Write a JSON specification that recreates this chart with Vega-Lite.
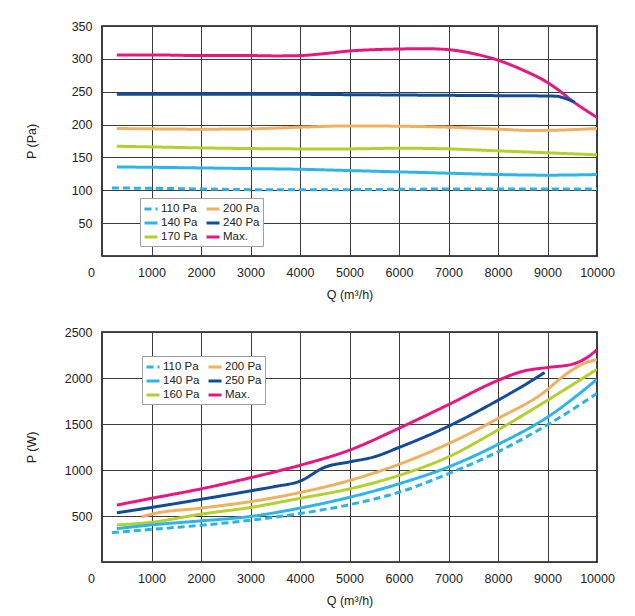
{
  "$schema": "https://vega.github.io/schema/vega-lite/v6.json",
  "background": "white",
  "padding": {"left": 24, "top": 19, "right": 5, "bottom": 5},
  "spacing": 23,
  "datasets": {
    "pressure": [
      {"s": "Max.", "q": 300, "v": 306}, {"s": "Max.", "q": 1000, "v": 306}, {"s": "Max.", "q": 2000, "v": 305}, {"s": "Max.", "q": 3000, "v": 305}, {"s": "Max.", "q": 3500, "v": 304.5}, {"s": "Max.", "q": 4000, "v": 305}, {"s": "Max.", "q": 4500, "v": 308}, {"s": "Max.", "q": 5000, "v": 312}, {"s": "Max.", "q": 5500, "v": 314}, {"s": "Max.", "q": 6000, "v": 315}, {"s": "Max.", "q": 6500, "v": 315.5}, {"s": "Max.", "q": 7000, "v": 314}, {"s": "Max.", "q": 7500, "v": 308}, {"s": "Max.", "q": 8000, "v": 298}, {"s": "Max.", "q": 8500, "v": 283}, {"s": "Max.", "q": 9000, "v": 264}, {"s": "Max.", "q": 9250, "v": 251}, {"s": "Max.", "q": 9500, "v": 236}, {"s": "Max.", "q": 9750, "v": 223}, {"s": "Max.", "q": 10000, "v": 211},
      {"s": "240 Pa", "q": 300, "v": 246}, {"s": "240 Pa", "q": 1000, "v": 246}, {"s": "240 Pa", "q": 2000, "v": 246}, {"s": "240 Pa", "q": 3000, "v": 246}, {"s": "240 Pa", "q": 4000, "v": 246}, {"s": "240 Pa", "q": 5000, "v": 245.5}, {"s": "240 Pa", "q": 6000, "v": 245}, {"s": "240 Pa", "q": 7000, "v": 244.5}, {"s": "240 Pa", "q": 8000, "v": 244}, {"s": "240 Pa", "q": 9000, "v": 243.5}, {"s": "240 Pa", "q": 9200, "v": 243}, {"s": "240 Pa", "q": 9350, "v": 240}, {"s": "240 Pa", "q": 9550, "v": 234},
      {"s": "200 Pa", "q": 300, "v": 194}, {"s": "200 Pa", "q": 1000, "v": 193.5}, {"s": "200 Pa", "q": 2000, "v": 193}, {"s": "200 Pa", "q": 3000, "v": 193.5}, {"s": "200 Pa", "q": 4000, "v": 196}, {"s": "200 Pa", "q": 5000, "v": 198}, {"s": "200 Pa", "q": 6000, "v": 197.5}, {"s": "200 Pa", "q": 7000, "v": 196}, {"s": "200 Pa", "q": 8000, "v": 193}, {"s": "200 Pa", "q": 8700, "v": 191}, {"s": "200 Pa", "q": 9200, "v": 191.5}, {"s": "200 Pa", "q": 10000, "v": 194},
      {"s": "170 Pa", "q": 300, "v": 167}, {"s": "170 Pa", "q": 1000, "v": 166}, {"s": "170 Pa", "q": 2000, "v": 164.5}, {"s": "170 Pa", "q": 3000, "v": 163.5}, {"s": "170 Pa", "q": 4000, "v": 163}, {"s": "170 Pa", "q": 5000, "v": 163}, {"s": "170 Pa", "q": 6000, "v": 164}, {"s": "170 Pa", "q": 7000, "v": 163}, {"s": "170 Pa", "q": 8000, "v": 160}, {"s": "170 Pa", "q": 9000, "v": 157}, {"s": "170 Pa", "q": 10000, "v": 154},
      {"s": "140 Pa", "q": 300, "v": 135.5}, {"s": "140 Pa", "q": 1000, "v": 135}, {"s": "140 Pa", "q": 2000, "v": 134}, {"s": "140 Pa", "q": 3000, "v": 133}, {"s": "140 Pa", "q": 4000, "v": 132}, {"s": "140 Pa", "q": 5000, "v": 130}, {"s": "140 Pa", "q": 6000, "v": 128}, {"s": "140 Pa", "q": 7000, "v": 126}, {"s": "140 Pa", "q": 8000, "v": 124}, {"s": "140 Pa", "q": 9000, "v": 123}, {"s": "140 Pa", "q": 10000, "v": 124},
      {"s": "110 Pa", "q": 200, "v": 103.5}, {"s": "110 Pa", "q": 1000, "v": 103}, {"s": "110 Pa", "q": 2000, "v": 102}, {"s": "110 Pa", "q": 3000, "v": 101}, {"s": "110 Pa", "q": 4000, "v": 101}, {"s": "110 Pa", "q": 5000, "v": 101}, {"s": "110 Pa", "q": 6000, "v": 101.5}, {"s": "110 Pa", "q": 7000, "v": 102}, {"s": "110 Pa", "q": 8000, "v": 102}, {"s": "110 Pa", "q": 9000, "v": 102}, {"s": "110 Pa", "q": 10000, "v": 102}
    ],
    "power": [
      {"s": "Max.", "q": 300, "v": 619}, {"s": "Max.", "q": 1000, "v": 692}, {"s": "Max.", "q": 2000, "v": 795}, {"s": "Max.", "q": 3000, "v": 916}, {"s": "Max.", "q": 4000, "v": 1051}, {"s": "Max.", "q": 5000, "v": 1216}, {"s": "Max.", "q": 6000, "v": 1454}, {"s": "Max.", "q": 7000, "v": 1711}, {"s": "Max.", "q": 8000, "v": 1974}, {"s": "Max.", "q": 8500, "v": 2073}, {"s": "Max.", "q": 9000, "v": 2114}, {"s": "Max.", "q": 9500, "v": 2150}, {"s": "Max.", "q": 9800, "v": 2223}, {"s": "Max.", "q": 10000, "v": 2308},
      {"s": "250 Pa", "q": 300, "v": 535}, {"s": "250 Pa", "q": 1000, "v": 593}, {"s": "250 Pa", "q": 2000, "v": 681}, {"s": "250 Pa", "q": 3000, "v": 773}, {"s": "250 Pa", "q": 3500, "v": 821}, {"s": "250 Pa", "q": 4000, "v": 879}, {"s": "250 Pa", "q": 4500, "v": 1030}, {"s": "250 Pa", "q": 5000, "v": 1088}, {"s": "250 Pa", "q": 5500, "v": 1143}, {"s": "250 Pa", "q": 6000, "v": 1245}, {"s": "250 Pa", "q": 7000, "v": 1476}, {"s": "250 Pa", "q": 8000, "v": 1758}, {"s": "250 Pa", "q": 8500, "v": 1912}, {"s": "250 Pa", "q": 8940, "v": 2059},
      {"s": "200 Pa", "q": 800, "v": 491}, {"s": "200 Pa", "q": 1000, "v": 520}, {"s": "200 Pa", "q": 2000, "v": 586}, {"s": "200 Pa", "q": 3000, "v": 656}, {"s": "200 Pa", "q": 4000, "v": 755}, {"s": "200 Pa", "q": 5000, "v": 886}, {"s": "200 Pa", "q": 6000, "v": 1062}, {"s": "200 Pa", "q": 7000, "v": 1286}, {"s": "200 Pa", "q": 8000, "v": 1560}, {"s": "200 Pa", "q": 9000, "v": 1875}, {"s": "200 Pa", "q": 9200, "v": 1967}, {"s": "200 Pa", "q": 9500, "v": 2088}, {"s": "200 Pa", "q": 9750, "v": 2161}, {"s": "200 Pa", "q": 10000, "v": 2198},
      {"s": "160 Pa", "q": 300, "v": 403}, {"s": "160 Pa", "q": 1000, "v": 432}, {"s": "160 Pa", "q": 2000, "v": 520}, {"s": "160 Pa", "q": 3000, "v": 593}, {"s": "160 Pa", "q": 4000, "v": 692}, {"s": "160 Pa", "q": 5000, "v": 795}, {"s": "160 Pa", "q": 6000, "v": 941}, {"s": "160 Pa", "q": 7000, "v": 1143}, {"s": "160 Pa", "q": 8000, "v": 1436}, {"s": "160 Pa", "q": 9000, "v": 1758}, {"s": "160 Pa", "q": 10000, "v": 2095},
      {"s": "140 Pa", "q": 300, "v": 363}, {"s": "140 Pa", "q": 1000, "v": 403}, {"s": "140 Pa", "q": 2000, "v": 447}, {"s": "140 Pa", "q": 3000, "v": 495}, {"s": "140 Pa", "q": 4000, "v": 586}, {"s": "140 Pa", "q": 5000, "v": 703}, {"s": "140 Pa", "q": 6000, "v": 850}, {"s": "140 Pa", "q": 7000, "v": 1033}, {"s": "140 Pa", "q": 8000, "v": 1278}, {"s": "140 Pa", "q": 9000, "v": 1575}, {"s": "140 Pa", "q": 10000, "v": 1985},
      {"s": "110 Pa", "q": 200, "v": 319}, {"s": "110 Pa", "q": 1000, "v": 355}, {"s": "110 Pa", "q": 2000, "v": 399}, {"s": "110 Pa", "q": 3000, "v": 454}, {"s": "110 Pa", "q": 4000, "v": 527}, {"s": "110 Pa", "q": 5000, "v": 623}, {"s": "110 Pa", "q": 6000, "v": 758}, {"s": "110 Pa", "q": 7000, "v": 960}, {"s": "110 Pa", "q": 8000, "v": 1198}, {"s": "110 Pa", "q": 9000, "v": 1491}, {"s": "110 Pa", "q": 10000, "v": 1832}
    ]
  },
  "resolve": {"scale": {"color": "independent", "strokeDash": "independent"}, "legend": {"color": "independent", "strokeDash": "independent"}},
  "vconcat": [
    {
      "width": 495,
      "height": 230,
      "data": {"name": "pressure"},
      "mark": {"type": "line", "interpolate": "monotone", "strokeWidth": 3, "clip": true},
      "encoding": {
        "x": {"field": "q", "type": "quantitative", "title": "Q (m³/h)", "scale": {"domain": [0, 10000], "nice": false},
          "axis": {"grid": true, "values": [0, 1000, 2000, 3000, 4000, 5000, 6000, 7000, 8000, 9000, 10000], "format": "d", "labelOffset": {"condition": {"test": "datum.value === 0", "value": -11}, "value": 0}}},
        "y": {"field": "v", "type": "quantitative", "title": "P (Pa)", "scale": {"domain": [0, 350], "nice": false},
          "axis": {"grid": true, "values": [0, 50, 100, 150, 200, 250, 300, 350], "labelExpr": "datum.value === 0 ? '' : datum.label", "titlePadding": 33}},
        "color": {"field": "s", "type": "nominal",
          "scale": {"domain": ["110 Pa", "140 Pa", "170 Pa", "200 Pa", "240 Pa", "Max."], "range": ["#2cb2e6", "#2cb5ea", "#b4d02c", "#f0b05e", "#114c9c", "#e8177f"]},
          "legend": {"orient": "none", "legendX": 38, "legendY": 172, "columns": 2, "title": null}},
        "strokeDash": {"field": "s", "type": "nominal",
          "scale": {"domain": ["110 Pa", "140 Pa", "170 Pa", "200 Pa", "240 Pa", "Max."], "range": [[7, 4], [1, 0], [1, 0], [1, 0], [1, 0], [1, 0]]},
          "legend": {"orient": "none", "legendX": 38, "legendY": 172, "columns": 2, "title": null}}
      }
    },
    {
      "width": 495,
      "height": 230,
      "data": {"name": "power"},
      "mark": {"type": "line", "interpolate": "monotone", "strokeWidth": 3, "clip": true},
      "encoding": {
        "x": {"field": "q", "type": "quantitative", "title": "Q (m³/h)", "scale": {"domain": [0, 10000], "nice": false},
          "axis": {"grid": true, "values": [0, 1000, 2000, 3000, 4000, 5000, 6000, 7000, 8000, 9000, 10000], "format": "d", "labelOffset": {"condition": {"test": "datum.value === 0", "value": -11}, "value": 0}}},
        "y": {"field": "v", "type": "quantitative", "title": "P (W)", "scale": {"domain": [0, 2500], "nice": false},
          "axis": {"grid": true, "values": [0, 500, 1000, 1500, 2000, 2500], "format": "d", "labelExpr": "datum.value === 0 ? '' : datum.label", "titlePadding": 26}},
        "color": {"field": "s", "type": "nominal",
          "scale": {"domain": ["110 Pa", "140 Pa", "160 Pa", "200 Pa", "250 Pa", "Max."], "range": ["#2cb2e6", "#2cb5ea", "#b4d02c", "#f0b05e", "#114c9c", "#e8177f"]},
          "legend": {"orient": "none", "legendX": 40, "legendY": 24, "columns": 2, "title": null}},
        "strokeDash": {"field": "s", "type": "nominal",
          "scale": {"domain": ["110 Pa", "140 Pa", "160 Pa", "200 Pa", "250 Pa", "Max."], "range": [[7, 4], [1, 0], [1, 0], [1, 0], [1, 0], [1, 0]]},
          "legend": {"orient": "none", "legendX": 40, "legendY": 24, "columns": 2, "title": null}}
      }
    }
  ],
  "config": {
    "font": "Liberation Sans",
    "view": {"stroke": "#111111", "strokeWidth": 1.6},
    "axis": {
      "domainOpacity": 0,
      "tickSize": 0,
      "labelFlush": false,
      "gridColor": "#3c3c3c",
      "gridWidth": 1,
      "labelFont": "Liberation Sans",
      "labelFontSize": 12.5,
      "labelColor": "#222222",
      "labelPadding": 10,
      "titleFont": "Liberation Sans",
      "titleFontSize": 12.5,
      "titleFontWeight": "normal",
      "titleColor": "#222222"
    },
    "axisX": {"titlePadding": 10},
    "legend": {
      "symbolType": "stroke",
      "symbolStrokeWidth": 3,
      "symbolSize": 169,
      "labelFont": "Liberation Sans",
      "labelFontSize": 11.5,
      "labelColor": "#222222",
      "labelOffset": 2,
      "columnPadding": 2,
      "rowPadding": 0,
      "padding": 3,
      "fillColor": "#ffffff",
      "strokeColor": "#a0a0a0",
      "cornerRadius": 0
    }
  }
}
